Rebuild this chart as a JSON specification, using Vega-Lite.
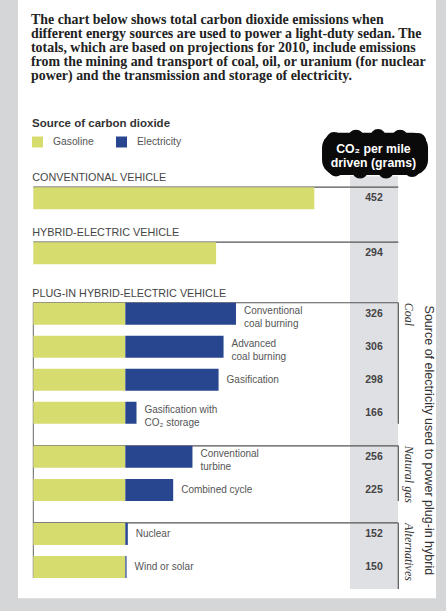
{
  "$schema": "https://vega.github.io/schema/vega-lite/v6.json",
  "width": 446,
  "height": 611,
  "padding": 0,
  "autosize": {"type": "none"},
  "background": "#d4d6d7",
  "config": {"view": {"stroke": null}, "font": "Liberation Sans"},
  "datasets": {
    "one": [{}],
    "bars": [
      {"row": "conv", "source": "Gasoline", "grams": 452},
      {"row": "hybrid", "source": "Gasoline", "grams": 294},
      {"row": "coalConv", "source": "Gasoline", "grams": 148},
      {"row": "coalConv", "source": "Electricity", "grams": 178},
      {"row": "coalAdv", "source": "Gasoline", "grams": 148},
      {"row": "coalAdv", "source": "Electricity", "grams": 158},
      {"row": "coalGas", "source": "Gasoline", "grams": 148},
      {"row": "coalGas", "source": "Electricity", "grams": 150},
      {"row": "coalCCS", "source": "Gasoline", "grams": 148},
      {"row": "coalCCS", "source": "Electricity", "grams": 18},
      {"row": "gasConv", "source": "Gasoline", "grams": 148},
      {"row": "gasConv", "source": "Electricity", "grams": 108},
      {"row": "gasCC", "source": "Gasoline", "grams": 148},
      {"row": "gasCC", "source": "Electricity", "grams": 77},
      {"row": "nuclear", "source": "Gasoline", "grams": 148},
      {"row": "nuclear", "source": "Electricity", "grams": 4},
      {"row": "wind", "source": "Gasoline", "grams": 148},
      {"row": "wind", "source": "Electricity", "grams": 2}
    ],
    "rows": [
      {"row": "conv", "total": 452, "label": ""},
      {"row": "hybrid", "total": 294, "label": ""},
      {"row": "coalConv", "total": 326, "label": "Conventional\ncoal burning"},
      {"row": "coalAdv", "total": 306, "label": "Advanced\ncoal burning"},
      {"row": "coalGas", "total": 298, "label": "Gasification"},
      {"row": "coalCCS", "total": 166, "label": "Gasification with\nCO₂ storage"},
      {"row": "gasConv", "total": 256, "label": "Conventional\nturbine"},
      {"row": "gasCC", "total": 225, "label": "Combined cycle"},
      {"row": "nuclear", "total": 152, "label": "Nuclear"},
      {"row": "wind", "total": 150, "label": "Wind or solar"}
    ],
    "headers": [
      {"row": "hdrConv", "text": "CONVENTIONAL VEHICLE"},
      {"row": "hdrHybrid", "text": "HYBRID-ELECTRIC VEHICLE"},
      {"row": "hdrPlugin", "text": "PLUG-IN HYBRID-ELECTRIC VEHICLE"}
    ],
    "hlines": [
      {"row": "lineConv"}, {"row": "lineHybrid"}, {"row": "boxCoal"}, {"row": "boxGas"}, {"row": "boxAlt"}
    ],
    "vlines": [
      {"start": "boxCoal", "end": "coalEnd"},
      {"start": "boxGas", "end": "gasEnd"},
      {"start": "boxAlt", "end": "colEnd"}
    ],
    "groups": [
      {"row": "boxCoal", "text": "Coal"},
      {"row": "boxGas", "text": "Natural gas"},
      {"row": "boxAlt", "text": "Alternatives"}
    ],
    "notes": [
      {"row": "intro", "text": "The chart below shows total carbon dioxide emissions when\ndifferent energy sources are used to power a light-duty sedan. The\ntotals, which are based on projections for 2010, include emissions\nfrom the mining and transport of coal, oil, or uranium (for nuclear\npower) and the transmission and storage of electricity."}
    ]
  },
  "layer": [
    {
      "data": {"name": "one"},
      "mark": {"type": "rect", "color": "#ffffff"},
      "encoding": {
        "x": {"datum": -24.6, "type": "quantitative", "axis": null,
          "scale": {"domain": [-53.56, 663.8], "nice": false, "zero": false}},
        "x2": {"datum": 647.7},
        "y": {"datum": "top", "type": "nominal", "bandPosition": -0.5, "axis": null,
          "scale": {"type": "band", "paddingInner": 0, "paddingOuter": 0.5,
            "domain": ["top","_1","_2","intro","_4","_5","_6","_7","_8","_9","_10","_11","_12","_13","_14","_15","_16","_17","_18","_19","_20","_21","_22","cloudTop","_24","_25","_26","cloudText","_28","_29","_30","hdrConv","_32","lineConv","_34","conv","_36","_37","_38","_39","_40","hdrHybrid","_42","lineHybrid","_44","hybrid","_46","_47","_48","_49","_50","_51","hdrPlugin","_53","boxCoal","_55","coalConv","_57","_58","_59","_60","_61","coalAdv","_63","_64","_65","_66","_67","coalGas","_69","_70","_71","_72","_73","coalCCS","_75","coalEnd","_77","_78","bigLabel","boxGas","_81","gasConv","_83","_84","_85","_86","_87","gasCC","_89","gasEnd","_91","_92","_93","boxAlt","_95","nuclear","_97","_98","_99","_100","_101","wind","_103","leftEnd","_105","colEnd","_107","panelEnd","_109"]}},
        "y2": {"datum": "panelEnd", "bandPosition": 0.19}
      }
    },
    {
      "data": {"name": "one"},
      "mark": {"type": "rect", "color": "#dfe0e4"},
      "encoding": {
        "x": {"datum": 509.4, "type": "quantitative"},
        "x2": {"datum": 586.6},
        "y": {"datum": "hdrConv", "type": "nominal", "bandPosition": 0.5},
        "y2": {"datum": "colEnd", "bandPosition": 0.5}
      }
    },
    {
      "data": {"name": "one"},
      "mark": {"type": "rect", "color": "#0a0a0a", "cornerRadius": 15},
      "encoding": {
        "x": {"datum": 464.4, "type": "quantitative"},
        "x2": {"datum": 634.9},
        "y": {"datum": "cloudTop", "type": "nominal", "bandPosition": 0.6},
        "y2": {"datum": "hdrConv", "bandPosition": 0.3}
      }
    },
    {"data": {"name": "one"}, "mark": {"type": "circle", "color": "#0a0a0a", "opacity": 1, "size": 254},
      "encoding": {"x": {"datum": 483.7, "type": "quantitative"}, "y": {"datum": "cloudTop", "type": "nominal", "bandPosition": 1.95}}},
    {"data": {"name": "one"}, "mark": {"type": "circle", "color": "#0a0a0a", "opacity": 1, "size": 254},
      "encoding": {"x": {"datum": 519.1, "type": "quantitative"}, "y": {"datum": "cloudTop", "type": "nominal", "bandPosition": 1.5}}},
    {"data": {"name": "one"}, "mark": {"type": "circle", "color": "#0a0a0a", "opacity": 1, "size": 254},
      "encoding": {"x": {"datum": 554.5, "type": "quantitative"}, "y": {"datum": "cloudTop", "type": "nominal", "bandPosition": 1.4}}},
    {"data": {"name": "one"}, "mark": {"type": "circle", "color": "#0a0a0a", "opacity": 1, "size": 254},
      "encoding": {"x": {"datum": 589.9, "type": "quantitative"}, "y": {"datum": "cloudTop", "type": "nominal", "bandPosition": 1.5}}},
    {"data": {"name": "one"}, "mark": {"type": "circle", "color": "#0a0a0a", "opacity": 1, "size": 254},
      "encoding": {"x": {"datum": 618.8, "type": "quantitative"}, "y": {"datum": "cloudTop", "type": "nominal", "bandPosition": 2.1}}},
    {"data": {"name": "one"}, "mark": {"type": "circle", "color": "#0a0a0a", "opacity": 1, "size": 254},
      "encoding": {"x": {"datum": 486.9, "type": "quantitative"}, "y": {"datum": "hdrConv", "type": "nominal", "bandPosition": -0.9}}},
    {"data": {"name": "one"}, "mark": {"type": "circle", "color": "#0a0a0a", "opacity": 1, "size": 254},
      "encoding": {"x": {"datum": 525.5, "type": "quantitative"}, "y": {"datum": "hdrConv", "type": "nominal", "bandPosition": -0.5}}},
    {"data": {"name": "one"}, "mark": {"type": "circle", "color": "#0a0a0a", "opacity": 1, "size": 254},
      "encoding": {"x": {"datum": 567.3, "type": "quantitative"}, "y": {"datum": "hdrConv", "type": "nominal", "bandPosition": -0.5}}},
    {"data": {"name": "one"}, "mark": {"type": "circle", "color": "#0a0a0a", "opacity": 1, "size": 254},
      "encoding": {"x": {"datum": 609.2, "type": "quantitative"}, "y": {"datum": "hdrConv", "type": "nominal", "bandPosition": -0.8}}},
    {
      "data": {"name": "one"},
      "mark": {"type": "text", "text": "CO₂ per mile\ndriven (grams)", "lineBreak": "\n", "lineHeight": 14, "color": "#ffffff", "font": "Liberation Sans", "fontWeight": "bold", "fontSize": 12.3, "align": "center", "baseline": "middle", "dy": -5},
      "encoding": {
        "x": {"datum": 547, "type": "quantitative"},
        "y": {"datum": "cloudText", "type": "nominal"}
      }
    },
    {
      "data": {"name": "notes"},
      "mark": {"type": "text", "lineBreak": "\n", "lineHeight": 14, "color": "#222222", "font": "Liberation Serif", "fontWeight": "bold", "fontSize": 13.9, "align": "left", "baseline": "alphabetic", "dy": 2},
      "encoding": {
        "x": {"datum": -3.7, "type": "quantitative"},
        "y": {"field": "row", "type": "nominal"},
        "text": {"field": "text"}
      }
    },
    {
      "data": {"name": "headers"},
      "mark": {"type": "text", "color": "#444444", "font": "Liberation Sans", "fontSize": 10.8, "align": "left", "baseline": "middle", "dy": 2},
      "encoding": {
        "x": {"datum": -1.6, "type": "quantitative"},
        "y": {"field": "row", "type": "nominal"},
        "text": {"field": "text"}
      }
    },
    {
      "data": {"name": "hlines"},
      "mark": {"type": "rule", "color": "#555555", "strokeWidth": 1.2},
      "encoding": {
        "x": {"datum": 0, "type": "quantitative"},
        "x2": {"datum": 587.1},
        "y": {"field": "row", "type": "nominal"}
      }
    },
    {
      "data": {"name": "vlines"},
      "mark": {"type": "rule", "color": "#555555", "strokeWidth": 1.2},
      "encoding": {
        "x": {"datum": 587.1, "type": "quantitative"},
        "y": {"field": "start", "type": "nominal"},
        "y2": {"field": "end"}
      }
    },
    {
      "data": {"name": "one"},
      "mark": {"type": "rule", "color": "#666666", "strokeWidth": 1},
      "encoding": {
        "x": {"datum": 0, "type": "quantitative"},
        "y": {"datum": "boxCoal", "type": "nominal"},
        "y2": {"datum": "leftEnd"}
      }
    },
    {
      "data": {"name": "bars"},
      "mark": {"type": "bar", "height": 22},
      "encoding": {
        "x": {"field": "grams", "type": "quantitative", "stack": "zero"},
        "y": {"field": "row", "type": "nominal"},
        "color": {"field": "source", "type": "nominal",
          "scale": {"domain": ["Gasoline", "Electricity"], "range": ["#d7dc6f", "#28468f"]},
          "legend": {"orient": "none", "legendX": 32, "legendY": 118, "direction": "horizontal",
            "title": "Source of carbon dioxide", "titleFont": "Liberation Sans", "titleFontSize": 11.5, "titleFontWeight": "bold", "titleColor": "#333333", "titlePadding": 7,
            "labelFont": "Liberation Sans", "labelFontSize": 10.3, "labelColor": "#555555", "labelOffset": 10,
            "symbolType": "square", "symbolSize": 121, "symbolStrokeWidth": 0, "symbolOpacity": 1, "columnPadding": 22}},
        "order": {"field": "source", "sort": "descending"}
      }
    },
    {
      "data": {"name": "rows"},
      "mark": {"type": "text", "color": "#444444", "font": "Liberation Sans", "fontWeight": "bold", "fontSize": 10.5, "align": "center", "baseline": "middle"},
      "encoding": {
        "x": {"datum": 548, "type": "quantitative"},
        "y": {"field": "row", "type": "nominal"},
        "text": {"field": "total"}
      }
    },
    {
      "data": {"name": "rows"},
      "transform": [{"filter": "indexof(datum.label, '\\n') < 0"}],
      "mark": {"type": "text", "color": "#555555", "font": "Liberation Sans", "fontSize": 10, "align": "left", "baseline": "middle", "dx": 8},
      "encoding": {
        "x": {"field": "total", "type": "quantitative"},
        "y": {"field": "row", "type": "nominal"},
        "text": {"field": "label"}
      }
    },
    {
      "data": {"name": "rows"},
      "transform": [{"filter": "indexof(datum.label, '\\n') >= 0"}],
      "mark": {"type": "text", "lineBreak": "\n", "lineHeight": 13, "color": "#555555", "font": "Liberation Sans", "fontSize": 10, "align": "left", "baseline": "middle", "dx": 8, "dy": -3},
      "encoding": {
        "x": {"field": "total", "type": "quantitative"},
        "y": {"field": "row", "type": "nominal"},
        "text": {"field": "label"}
      }
    },
    {
      "data": {"name": "groups"},
      "mark": {"type": "text", "angle": 90, "color": "#333333", "font": "Liberation Serif", "fontStyle": "italic", "fontSize": 12, "align": "left", "baseline": "middle"},
      "encoding": {
        "x": {"datum": 604.3, "type": "quantitative"},
        "y": {"field": "row", "type": "nominal"},
        "text": {"field": "text"}
      }
    },
    {
      "data": {"name": "one"},
      "mark": {"type": "text", "text": "Source of electricity used to power plug-in hybrid", "angle": 90, "color": "#333333", "font": "Liberation Sans", "fontSize": 12.5, "align": "center", "baseline": "middle"},
      "encoding": {
        "x": {"datum": 636.5, "type": "quantitative"},
        "y": {"datum": "bigLabel", "type": "nominal"}
      }
    }
  ]
}
